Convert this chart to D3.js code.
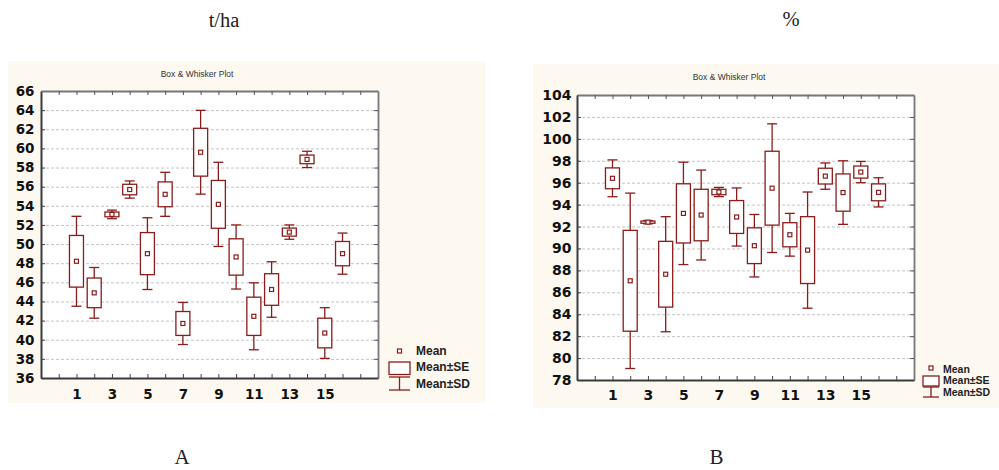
<!DOCTYPE html>
<html>
<head>
<meta charset="utf-8">
<script src="https://cdn.jsdelivr.net/npm/d3@7"></script>
<style>
  body { margin: 0; background: #fff; }
  svg { display: block; }
</style>
</head>
<body>
<div id="chart"></div>
<script>
// categories on the x axis (1..16) and the labelled ticks
let categories = [1, 2, 3, 4, 5, 6, 7, 8, 9, 10, 11, 12, 13, 14, 15, 16];
let xTickLabels = [1, 3, 5, 7, 9, 11, 13, 15];

// panel A (t/ha)
let meanA = [48.2, 44.9, 53.1, 55.7, 49.0, 55.2, 41.7, 59.6, 54.15, 48.65, 42.45, 45.25, 51.25, 58.85, 40.7, 49.0];
let seA   = [2.7, 1.55, 0.25, 0.55, 2.2, 1.3, 1.25, 2.5, 2.5, 1.9, 2.0, 1.65, 0.42, 0.45, 1.55, 1.27];
let sdA   = [4.7, 2.65, 0.45, 0.9, 3.75, 2.3, 2.2, 4.38, 4.4, 3.35, 3.5, 2.9, 0.75, 0.85, 2.65, 2.15];
let yTicksA = [36, 38, 40, 42, 44, 46, 48, 50, 52, 54, 56, 58, 60, 62, 64, 66];

// panel B (%)
let meanB = [96.4, 87.05, 92.4, 87.65, 93.2, 93.05, 95.15, 92.87, 90.25, 95.5, 91.25, 89.85, 96.6, 95.1, 96.97, 95.12];
let seB   = [0.95, 4.6, 0.1, 3.0, 2.7, 2.35, 0.25, 1.5, 1.63, 3.37, 1.1, 3.05, 0.72, 1.7, 0.55, 0.77];
let sdB   = [1.68, 8.0, 0.15, 5.25, 4.67, 4.1, 0.42, 2.65, 2.85, 5.87, 1.95, 5.3, 1.2, 2.9, 0.97, 1.33];
let yTicksB = [78, 80, 82, 84, 86, 88, 90, 92, 94, 96, 98, 100, 102, 104];

let legendLabels = ['Mean', 'Mean\u00B1SE', 'Mean\u00B1SD'];

const sans = "'Liberation Sans', Arial, sans-serif";
const wide = "'DejaVu Sans', Verdana, sans-serif";
const serif = "'Liberation Serif', 'Times New Roman', serif";
const boxColor = '#8b1c1c';

let svg = d3.select('#chart').append('svg')
    .attr('width', 999)
    .attr('height', 470);

let panels = [
  {
    mean: meanA, se: seA, sd: sdA, yTicks: yTicksA, yDomain: [36, 66],
    bg: [8, 61, 477, 342], l: 41, t: 91, r: 378, b: 378,
    tickFont: 13.5, yPad: 6.5, xPad: 11,
    title: [197, 77], unit: ['t/ha', 224, 27], letter: ['A', 182, 464],
    leg: {mx: 399.5, my: 351, tx: 416, bx: 389, bw: 21, bt: 362, bh: 12.5, st: 377, sb: 390,
          ty: [351, 367, 383.5], font: 12}
  },
  {
    mean: meanB, se: seB, sd: sdB, yTicks: yTicksB, yDomain: [78, 104],
    bg: [533, 64, 466, 344], l: 577, t: 95, r: 914, b: 380,
    tickFont: 14, yPad: 5.5, xPad: 10.5,
    title: [729, 80], unit: ['%', 791, 26], letter: ['B', 716.5, 464],
    leg: {mx: 931, my: 368, tx: 943, bx: 923, bw: 16, bt: 376, bh: 10, st: 387, sb: 397,
          ty: [369, 380, 392], font: 10.5}
  }
];

panels.forEach(function(p) {

  let x = d3.scaleLinear().domain([-1, 18]).range([p.l, p.r]);
  let y = d3.scaleLinear().domain(p.yDomain).range([p.b, p.t]);

  // panel background
  svg.append('rect')
      .attr('x', p.bg[0]).attr('y', p.bg[1])
      .attr('width', p.bg[2]).attr('height', p.bg[3])
      .attr('fill', '#fdf9f0');

  svg.append('rect')
      .attr('x', p.l).attr('y', p.t)
      .attr('width', p.r - p.l).attr('height', p.b - p.t)
      .attr('fill', '#fff');

  svg.append('text')
      .attr('x', p.title[0]).attr('y', p.title[1])
      .attr('text-anchor', 'middle')
      .style('font-family', sans).style('font-size', '8.5px')
      .attr('fill', '#333')
      .text('Box & Whisker Plot');

  // dashed grid
  svg.append('g')
      .attr('transform', `translate(${p.l},0)`)
      .call(d3.axisLeft(y).tickValues(p.yTicks.slice(1, -1)).tickSize(-(p.r - p.l)).tickFormat(''))
      .call(g => g.select('.domain').remove())
      .selectAll('line')
        .attr('stroke', '#c4c4c4')
        .attr('stroke-dasharray', '3,2');

  // left axis
  let yAxis = svg.append('g')
      .attr('transform', `translate(${p.l},0)`)
      .call(d3.axisLeft(y).tickValues(p.yTicks).tickSize(-4).tickSizeOuter(0).tickPadding(p.yPad));

  // right axis
  let yAxisR = svg.append('g')
      .attr('transform', `translate(${p.r},0)`)
      .call(d3.axisRight(y).tickValues(p.yTicks).tickSize(-4).tickSizeOuter(0).tickFormat(''));

  // bottom axis
  let xAxis = svg.append('g')
      .attr('transform', `translate(0,${p.b})`)
      .call(d3.axisBottom(x).tickValues(d3.range(0, 18)).tickSize(-4).tickSizeOuter(0).tickPadding(p.xPad)
        .tickFormat(d => xTickLabels.includes(d) ? d : ''));

  // top axis
  let xAxisT = svg.append('g')
      .attr('transform', `translate(0,${p.t})`)
      .call(d3.axisTop(x).tickValues(d3.range(0, 18)).tickSize(-4).tickSizeOuter(0).tickFormat(''));

  [yAxis, xAxis].forEach(function(a) {
    a.select('.domain').attr('stroke', '#3a3a3a').attr('stroke-width', 2);
    a.selectAll('.tick line').attr('stroke', '#444');
    a.selectAll('text')
      .style('font-family', wide).style('font-size', p.tickFont + 'px')
      .style('font-weight', 'bold').attr('fill', '#111');
  });
  [yAxisR, xAxisT].forEach(function(a) {
    a.select('.domain').attr('stroke', '#777').attr('stroke-width', 1.8);
    a.selectAll('.tick line').attr('stroke', '#555');
  });

  // boxes
  let g = svg.append('g');
  categories.forEach(function(c, i) {
    let cx = x(c);
    let m = p.mean[i], se = p.se[i], sd = p.sd[i];
    g.append('line')
        .attr('x1', cx).attr('x2', cx)
        .attr('y1', y(m + sd)).attr('y2', y(m - sd))
        .attr('stroke', boxColor).attr('stroke-width', 1.3);
    [m + sd, m - sd].forEach(function(v) {
      g.append('line')
          .attr('x1', cx - 5).attr('x2', cx + 5)
          .attr('y1', y(v)).attr('y2', y(v))
          .attr('stroke', boxColor).attr('stroke-width', 1.3);
    });
    g.append('rect')
        .attr('x', cx - 7).attr('y', y(m + se))
        .attr('width', 14).attr('height', Math.max(1.5, y(m - se) - y(m + se)))
        .attr('fill', '#fff').attr('stroke', boxColor).attr('stroke-width', 1.3);
    g.append('rect')
        .attr('x', cx - 2).attr('y', y(m) - 2)
        .attr('width', 4).attr('height', 4)
        .attr('fill', '#fff').attr('stroke', boxColor).attr('stroke-width', 1.2);
  });

  // legend
  let L = p.leg;
  let lg = svg.append('g');
  lg.append('rect')
      .attr('x', L.mx - 2).attr('y', L.my - 2).attr('width', 4).attr('height', 4)
      .attr('fill', '#fff').attr('stroke', boxColor).attr('stroke-width', 1.2);
  lg.append('rect')
      .attr('x', L.bx).attr('y', L.bt).attr('width', L.bw).attr('height', L.bh)
      .attr('fill', '#fff').attr('stroke', boxColor).attr('stroke-width', 1.3);
  lg.append('line')
      .attr('x1', L.bx).attr('x2', L.bx + L.bw).attr('y1', L.st).attr('y2', L.st)
      .attr('stroke', boxColor).attr('stroke-width', 1.3);
  lg.append('line')
      .attr('x1', L.bx).attr('x2', L.bx + L.bw).attr('y1', L.sb).attr('y2', L.sb)
      .attr('stroke', boxColor).attr('stroke-width', 1.3);
  lg.append('line')
      .attr('x1', L.bx + L.bw / 2).attr('x2', L.bx + L.bw / 2).attr('y1', L.st).attr('y2', L.sb)
      .attr('stroke', boxColor).attr('stroke-width', 1.3);
  legendLabels.forEach(function(t, i) {
    lg.append('text')
        .attr('x', L.tx).attr('y', L.ty[i]).attr('dy', '0.36em')
        .style('font-family', sans).style('font-size', L.font + 'px').style('font-weight', 'bold')
        .attr('fill', '#222')
        .text(t);
  });

  // unit above and letter below
  svg.append('text')
      .attr('x', p.unit[1]).attr('y', p.unit[2]).attr('text-anchor', 'middle')
      .style('font-family', serif).style('font-size', '20.5px').attr('fill', '#222')
      .text(p.unit[0]);
  svg.append('text')
      .attr('x', p.letter[1]).attr('y', p.letter[2]).attr('text-anchor', 'middle')
      .style('font-family', serif).style('font-size', '21px').attr('fill', '#222')
      .text(p.letter[0]);
});
</script>
</body>
</html>
